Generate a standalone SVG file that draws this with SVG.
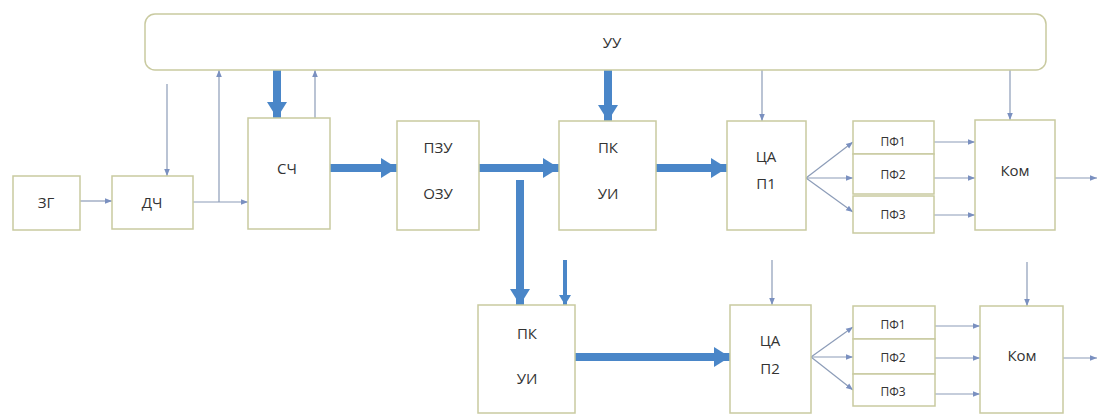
<svg xmlns="http://www.w3.org/2000/svg" width="1101" height="416" viewBox="0 0 1101 416">
<defs>
<style>
.box{fill:#fff;stroke:#c9caa0;stroke-width:1.5}
.t{font-family:"Open Sans","Liberation Sans",sans-serif;font-size:15px;fill:#333;text-anchor:middle;dominant-baseline:central}
.s{font-size:12px}
.thin{stroke:#8c9cb8;stroke-width:1.2;fill:none}
.thick{stroke:#4a86c8;stroke-width:8;fill:none}
.med{stroke:#4a86c8;stroke-width:4;fill:none}
</style>
<marker id="ah" viewBox="0 0 10 10" refX="10" refY="5" markerWidth="7" markerHeight="7" markerUnits="userSpaceOnUse" orient="auto"><path d="M0,1 L10,5 L0,9 z" fill="#7a90c0"/></marker>
<marker id="AH" viewBox="0 0 10 10" refX="10" refY="5" markerWidth="16" markerHeight="20" markerUnits="userSpaceOnUse" orient="auto" preserveAspectRatio="none"><path d="M0,0 L10,5 L0,10 z" fill="#4a86c8"/></marker>
<marker id="MH" viewBox="0 0 10 10" refX="10" refY="5" markerWidth="10" markerHeight="12" markerUnits="userSpaceOnUse" orient="auto" preserveAspectRatio="none"><path d="M0,0 L10,5 L0,10 z" fill="#4a86c8"/></marker>
</defs>
<rect width="1101" height="416" fill="#fff"/>
<g id="connectors">
<line class="thin" x1="80" y1="201" x2="112" y2="201" marker-end="url(#ah)"/>
<line class="thin" x1="193" y1="202" x2="248" y2="202" marker-end="url(#ah)"/>
<line class="thin" x1="219" y1="202" x2="219" y2="70" marker-end="url(#ah)"/>
<line class="thin" x1="167" y1="84" x2="167" y2="176" marker-end="url(#ah)"/>
<line class="thick" x1="277" y1="70" x2="277" y2="118" marker-end="url(#AH)"/>
<line class="thin" x1="315" y1="118" x2="315" y2="70" marker-end="url(#ah)"/>
<line class="thick" x1="330" y1="168" x2="397" y2="168" marker-end="url(#AH)"/>
<line class="thick" x1="479" y1="168" x2="559" y2="168" marker-end="url(#AH)"/>
<line class="thick" x1="608" y1="70" x2="608" y2="121" marker-end="url(#AH)"/>
<line class="thick" x1="656" y1="168" x2="727" y2="168" marker-end="url(#AH)"/>
<line class="thick" x1="520" y1="180" x2="520" y2="305" marker-end="url(#AH)"/>
<line class="med" x1="565" y1="260" x2="565" y2="305" marker-end="url(#MH)"/>
<line class="thick" x1="575" y1="357" x2="730" y2="357" marker-end="url(#AH)"/>
<line class="thin" x1="762" y1="70" x2="762" y2="121" marker-end="url(#ah)"/>
<line class="thin" x1="1010" y1="70" x2="1010" y2="120" marker-end="url(#ah)"/>
<line class="thin" x1="806" y1="178" x2="853" y2="142" marker-end="url(#ah)"/>
<line class="thin" x1="806" y1="178" x2="853" y2="178" marker-end="url(#ah)"/>
<line class="thin" x1="806" y1="178" x2="853" y2="212" marker-end="url(#ah)"/>
<line class="thin" x1="934" y1="142" x2="975" y2="142" marker-end="url(#ah)"/>
<line class="thin" x1="934" y1="178" x2="975" y2="178" marker-end="url(#ah)"/>
<line class="thin" x1="934" y1="215" x2="975" y2="215" marker-end="url(#ah)"/>
<line class="thin" x1="1055" y1="178" x2="1097" y2="178" marker-end="url(#ah)"/>
<line class="thin" x1="772" y1="260" x2="772" y2="305" marker-end="url(#ah)"/>
<line class="thin" x1="1027" y1="262" x2="1027" y2="306" marker-end="url(#ah)"/>
<line class="thin" x1="811" y1="357" x2="853" y2="327" marker-end="url(#ah)"/>
<line class="thin" x1="811" y1="357" x2="853" y2="357" marker-end="url(#ah)"/>
<line class="thin" x1="811" y1="357" x2="853" y2="390" marker-end="url(#ah)"/>
<line class="thin" x1="935" y1="326" x2="980" y2="326" marker-end="url(#ah)"/>
<line class="thin" x1="935" y1="358" x2="980" y2="358" marker-end="url(#ah)"/>
<line class="thin" x1="935" y1="394" x2="980" y2="394" marker-end="url(#ah)"/>
<line class="thin" x1="1063" y1="358" x2="1097" y2="358" marker-end="url(#ah)"/>
</g>
<g id="uu"><rect class="box" x="145" y="14" width="901" height="56" rx="10"/><text class="t" x="612" y="42">УУ</text></g>
<g id="zg"><rect class="box" x="13" y="176" width="67" height="54"/><text class="t" x="46" y="202">ЗГ</text></g>
<g id="dch"><rect class="box" x="112" y="176" width="81" height="53"/><text class="t" x="152" y="202">ДЧ</text></g>
<g id="sch"><rect class="box" x="248" y="118" width="82" height="111"/><text class="t" x="287" y="168">СЧ</text></g>
<g id="pzu"><rect class="box" x="397" y="121" width="82" height="109"/><text class="t" x="438" y="147">ПЗУ</text><text class="t" x="438" y="193">ОЗУ</text></g>
<g id="pk1"><rect class="box" x="559" y="121" width="97" height="109"/><text class="t" x="608" y="147">ПК</text><text class="t" x="608" y="193">УИ</text></g>
<g id="cap1"><rect class="box" x="727" y="121" width="79" height="109"/><text class="t" x="766" y="156">ЦА</text><text class="t" x="766" y="183">П1</text></g>
<g id="pf1a"><rect class="box" x="853" y="121" width="81" height="33"/><text class="t s" x="893" y="141">ПФ1</text></g>
<g id="pf2a"><rect class="box" x="853" y="154" width="81" height="40"/><text class="t s" x="893" y="174">ПФ2</text></g>
<g id="pf3a"><rect class="box" x="853" y="196" width="81" height="37"/><text class="t s" x="893" y="214">ПФ3</text></g>
<g id="kom1"><rect class="box" x="975" y="120" width="80" height="110"/><text class="t" x="1015" y="170">Ком</text></g>
<g id="pk2"><rect class="box" x="478" y="305" width="97" height="108"/><text class="t" x="527" y="333">ПК</text><text class="t" x="527" y="378">УИ</text></g>
<g id="cap2"><rect class="box" x="730" y="305" width="81" height="108"/><text class="t" x="770" y="340">ЦА</text><text class="t" x="770" y="368">П2</text></g>
<g id="pf1b"><rect class="box" x="853" y="306" width="82" height="33"/><text class="t s" x="893" y="324">ПФ1</text></g>
<g id="pf2b"><rect class="box" x="853" y="339" width="82" height="35"/><text class="t s" x="893" y="357">ПФ2</text></g>
<g id="pf3b"><rect class="box" x="853" y="374" width="82" height="32"/><text class="t s" x="893" y="391">ПФ3</text></g>
<g id="kom2"><rect class="box" x="980" y="306" width="83" height="107"/><text class="t" x="1022" y="355">Ком</text></g>
</svg>
